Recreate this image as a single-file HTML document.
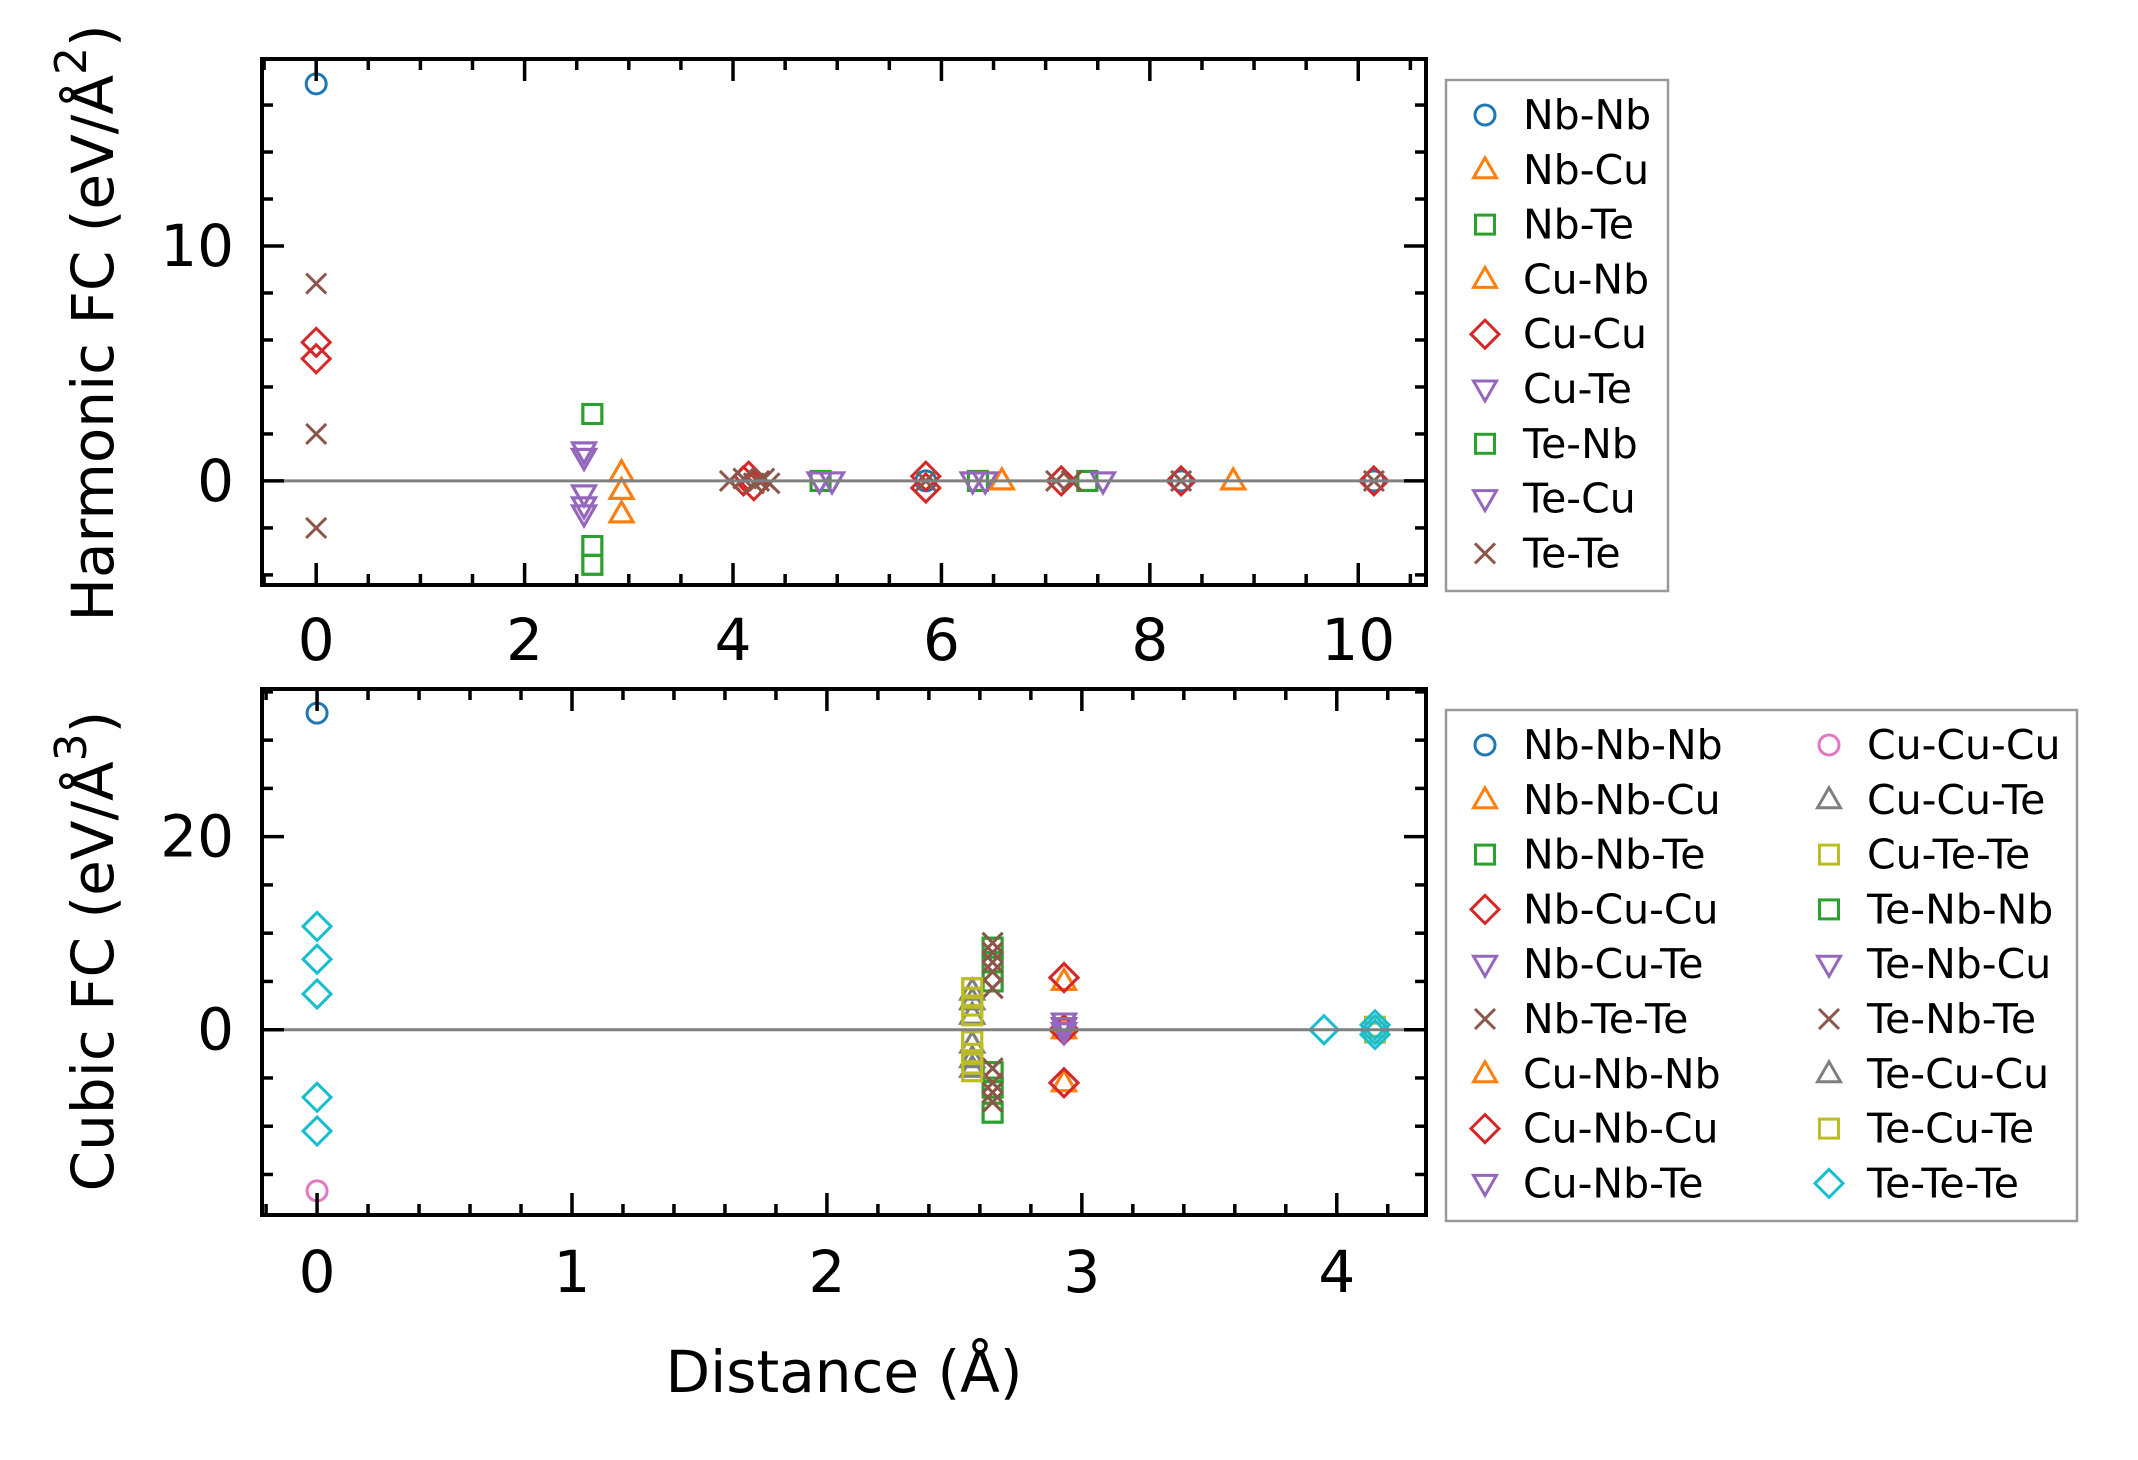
<!DOCTYPE html>
<html><head><meta charset="utf-8"><style>
html,body{margin:0;padding:0;background:#fff;}
svg{display:block;font-family:"DejaVu Sans","Liberation Sans",sans-serif;}
</style></head><body>
<svg id="chart" width="2138" height="1460" viewBox="0 0 2138 1460" xmlns="http://www.w3.org/2000/svg">
<rect width="2138" height="1460" fill="#fff"/>
<g id="top"></g>
<g id="bot"></g>
<text transform="translate(93,323) rotate(-90)" text-anchor="middle" dominant-baseline="central" font-size="58">Harmonic FC (eV/Å<tspan dy="-22" font-size="44">2</tspan><tspan dy="22">)</tspan></text>
<text transform="translate(93,951) rotate(-90)" text-anchor="middle" dominant-baseline="central" font-size="58">Cubic FC (eV/Å<tspan dy="-22" font-size="44">3</tspan><tspan dy="22">)</tspan></text>
<text x="844" y="1372" text-anchor="middle" dominant-baseline="central" font-size="58">Distance (Å)</text>
</svg>
<script>
// ---------- Harmonic data ----------
const harmNames = ["Nb-Nb","Nb-Cu","Nb-Te","Cu-Nb","Cu-Cu","Cu-Te","Te-Nb","Te-Cu","Te-Te"];
const harmMarkers = ["o","^","s","^","D","v","s","v","x"];
const harmColors = ["#1f77b4","#ff7f0e","#2ca02c","#ff7f0e","#d62728","#9467bd","#2ca02c","#9467bd","#8c564b"];
const nbNbX = [0, 5.85, 8.3, 10.15];
const nbNbY = [16.9, 0, 0, 0];
const nbCuX = [2.93, 2.93, 2.93, 6.58, 8.8];
const nbCuY = [0.35, -0.4, -1.4, 0, 0];
const nbTeX = [2.65, 2.65, 2.65, 4.84, 6.35, 7.4];
const nbTeY = [2.85, -2.77, -3.57, 0, 0, 0];
const cuCuX = [0, 0, 4.1, 4.15, 4.2, 5.85, 5.85, 7.15, 8.3, 10.15];
const cuCuY = [5.9, 5.2, 0, 0.2, -0.2, 0.2, -0.3, 0, 0, 0];
const cuTeX = [2.57, 2.57, 2.57, 2.57, 2.57, 4.83, 4.95, 6.3, 6.42, 7.55];
const cuTeY = [1.28, 1.0, -0.55, -1.06, -1.4, 0, 0, 0, 0, 0];
const teTeX = [0, 0, 0, 3.97, 4.1, 4.2, 4.25, 4.3, 4.35, 5.85, 7.1, 7.25, 8.3, 10.15];
const teTeY = [8.4, 2.0, -2.0, 0, 0.1, -0.1, 0, 0.1, -0.1, 0, 0, 0, 0, 0];
const harmXs = [nbNbX, nbCuX, nbTeX, nbCuX, cuCuX, cuTeX, nbTeX, cuTeX, teTeX];
const harmYs = [nbNbY, nbCuY, nbTeY, nbCuY, cuCuY, cuTeY, nbTeY, cuTeY, teTeY];
const harmXTicks = [0, 2, 4, 6, 8, 10];
const harmYTicks = [0, 10];

// ---------- Cubic data ----------
const cubNames = ["Nb-Nb-Nb","Nb-Nb-Cu","Nb-Nb-Te","Nb-Cu-Cu","Nb-Cu-Te","Nb-Te-Te","Cu-Nb-Nb","Cu-Nb-Cu","Cu-Nb-Te","Cu-Cu-Cu","Cu-Cu-Te","Cu-Te-Te","Te-Nb-Nb","Te-Nb-Cu","Te-Nb-Te","Te-Cu-Cu","Te-Cu-Te","Te-Te-Te"];
const cubMarkers = ["o","^","s","D","v","x","^","D","v","o","^","s","s","v","x","^","s","D"];
const cubColors = ["#1f77b4","#ff7f0e","#2ca02c","#d62728","#9467bd","#8c564b","#ff7f0e","#d62728","#9467bd","#e377c2","#7f7f7f","#bcbd22","#2ca02c","#9467bd","#8c564b","#7f7f7f","#bcbd22","#17becf"];
const nnnX = [0];
const nnnY = [32.8];
const nncX = [2.93, 2.93, 2.93];
const nncY = [5.0, 0, -5.5];
const nntX = [2.65, 2.65, 2.65, 2.65, 2.65, 2.65];
const nntY = [8.5, 7.0, 5.0, -4.4, -6.0, -8.6];
const nccX = [2.93, 2.93, 2.93];
const nccY = [5.4, 0, -5.5];
const nctX = [2.93, 2.93, 2.93];
const nctY = [0.8, 0.3, -0.2];
const nttX = [2.65, 2.65, 2.65, 2.65, 2.65, 2.65, 2.65, 2.65, 2.65];
const nttY = [9.0, 8.0, 7.0, 6.0, 4.3, -4.0, -5.5, -6.5, -7.5];
const cccX = [0];
const cccY = [-16.7];
const cctX = [2.57, 2.57, 2.57, 2.57, 2.57, 2.57];
const cctY = [4.0, 3.0, 1.5, -1.5, -3.0, -4.0];
const cttX = [2.57, 2.57, 2.57, 2.57, 2.57, 2.57, 2.57, 2.57, 4.15, 4.15];
const cttY = [4.3, 3.3, 2.5, 1.5, -1.2, -2.5, -3.5, -4.3, 0.3, -0.3];
const tttX = [0, 0, 0, 0, 0, 3.95, 4.15, 4.15, 4.15];
const tttY = [10.7, 7.3, 3.7, -7.0, -10.5, 0, 0.5, 0, -0.5];
const cubXs = [nnnX, nncX, nntX, nccX, nctX, nttX, nncX, nccX, nctX, cccX, cctX, cttX, nntX, nctX, nttX, cctX, cttX, tttX];
const cubYs = [nnnY, nncY, nntY, nccY, nctY, nttY, nncY, nccY, nctY, cccY, cctY, cttY, nntY, nctY, nttY, cctY, cttY, tttY];
const cubXTicks = [0, 1, 2, 3, 4];
const cubYTicks = [0, 20];

const NS = "http://www.w3.org/2000/svg";
function mk(tag, attrs, parent) {
  const e = document.createElementNS(NS, tag);
  for (const k in attrs) e.setAttribute(k, attrs[k]);
  parent.appendChild(e);
  return e;
}
function marker(parent, type, cx, cy, color) {
  const st = {fill: "none", stroke: color, "stroke-width": 3};
  let e;
  if (type === "o") e = mk("circle", Object.assign({cx: cx, cy: cy, r: 10}, st), parent);
  else if (type === "s") e = mk("rect", Object.assign({x: cx - 9.5, y: cy - 9.5, width: 19, height: 19}, st), parent);
  else if (type === "^") e = mk("polygon", Object.assign({points: `${cx},${cy-12} ${cx-11.5},${cy+8} ${cx+11.5},${cy+8}`}, st), parent);
  else if (type === "v") e = mk("polygon", Object.assign({points: `${cx},${cy+12} ${cx-11.5},${cy-8} ${cx+11.5},${cy-8}`}, st), parent);
  else if (type === "D") e = mk("polygon", Object.assign({points: `${cx},${cy-14} ${cx+14},${cy} ${cx},${cy+14} ${cx-14},${cy}`}, st), parent);
  else e = mk("path", Object.assign({d: `M${cx-10},${cy-10}L${cx+10},${cy+10}M${cx-10},${cy+10}L${cx+10},${cy-10}`}, st), parent);
  return e;
}

function panel(g, cfg) {
  const L = 262, R = 1426, T = cfg.top, B = cfg.bottom;
  const sx = v => L + (v - cfg.x0) / (cfg.x1 - cfg.x0) * (R - L);
  const sy = v => B - (v - cfg.y0) / (cfg.y1 - cfg.y0) * (B - T);
  // markers
  for (let i = 0; i < cfg.names.length; i++) {
    const sg = mk("g", {}, g);
    
    
    const xs = cfg.xs[i], ys = cfg.ys[i];
    for (let j = 0; j < xs.length; j++) {
      const m = marker(sg, cfg.markers[i], sx(xs[j]), sy(ys[j]), cfg.colors[i]);
      
      
    }
  }
  // zero line
  const zl = mk("line", {x1: L, x2: R, y1: sy(0), y2: sy(0), stroke: "#808080", "stroke-width": 3}, g);
  
  
  // ticks
  const tg = mk("g", {stroke: "#000", "stroke-width": 3.5}, g);
  
  
  const nx = Math.round((cfg.x1 - cfg.x0) / cfg.xMinor) + 2;
  const startX = Math.ceil(cfg.x0 / cfg.xMinor);
  for (let k = startX; k * cfg.xMinor <= cfg.x1; k++) {
    const v = k * cfg.xMinor;
    const major = Math.abs(v / cfg.xMajor - Math.round(v / cfg.xMajor)) < 1e-6;
    const len = major ? 22 : 11, x = sx(v);
    mk("line", {x1: x, x2: x, y1: B, y2: B - len}, tg);
    mk("line", {x1: x, x2: x, y1: T, y2: T + len}, tg);
  }
  const startY = Math.ceil(cfg.y0 / cfg.yMinor);
  for (let k = startY; k * cfg.yMinor <= cfg.y1; k++) {
    const v = k * cfg.yMinor;
    const major = Math.abs(v / cfg.yMajor - Math.round(v / cfg.yMajor)) < 1e-6;
    const len = major ? 22 : 11, y = sy(v);
    mk("line", {x1: L, x2: L + len, y1: y, y2: y}, tg);
    mk("line", {x1: R, x2: R - len, y1: y, y2: y}, tg);
  }
  // tick labels
  cfg.xTicks.forEach(v => {
    const t = mk("text", {x: sx(v), y: cfg.xLabelY, "text-anchor": "middle", "dominant-baseline": "central", "font-size": 58}, g);
    t.textContent = String(v);
    
    
  });
  cfg.yTicks.forEach(v => {
    const t = mk("text", {x: 234, y: sy(v), "text-anchor": "end", "dominant-baseline": "central", "font-size": 58}, g);
    t.textContent = String(v);
    
    
  });
  // frame
  const fr = mk("rect", {x: L, y: T, width: R - L, height: B - T, fill: "none", stroke: "#000", "stroke-width": 4}, g);
  
  
  // legend
  const lg = mk("g", {}, g);
  
  
  mk("rect", {x: 1446, y: cfg.legTop, width: cfg.legW, height: cfg.legH, fill: "#fff", stroke: "#999", "stroke-width": 2.5}, lg);
  const perCol = cfg.perCol;
  for (let i = 0; i < cfg.names.length; i++) {
    const col = Math.floor(i / perCol), row = i % perCol;
    const y = cfg.legFirst + row * 54.8;
    const mx = col === 0 ? 1485 : 1829, tx = col === 0 ? 1523 : 1867;
    const eg = mk("g", {}, lg);
    
    
    marker(eg, cfg.markers[i], mx, y, cfg.colors[i]);
    const t = mk("text", {x: tx, y: y, "dominant-baseline": "central", "font-size": 41}, eg);
    t.textContent = cfg.names[i];
  }
}

panel(document.getElementById("top"), {
  top: 59, bottom: 585, x0: -0.52, x1: 10.65, y0: -4.43, y1: 17.96,
  xMinor: 0.5, xMajor: 2, yMinor: 2, yMajor: 10, xTicks: harmXTicks, yTicks: harmYTicks,
  xLabelY: 640, names: harmNames, markers: harmMarkers, colors: harmColors, xs: harmXs, ys: harmYs,
  legTop: 80, legW: 222, legH: 511, legFirst: 115, perCol: 9
});
panel(document.getElementById("bot"), {
  top: 689, bottom: 1215, x0: -0.216, x1: 4.35, y0: -19.2, y1: 35.3,
  xMinor: 0.2, xMajor: 1, yMinor: 5, yMajor: 20, xTicks: cubXTicks, yTicks: cubYTicks,
  xLabelY: 1272, names: cubNames, markers: cubMarkers, colors: cubColors, xs: cubXs, ys: cubYs,
  legTop: 710, legW: 631, legH: 511, legFirst: 745, perCol: 9
});
</script>
</body></html>
